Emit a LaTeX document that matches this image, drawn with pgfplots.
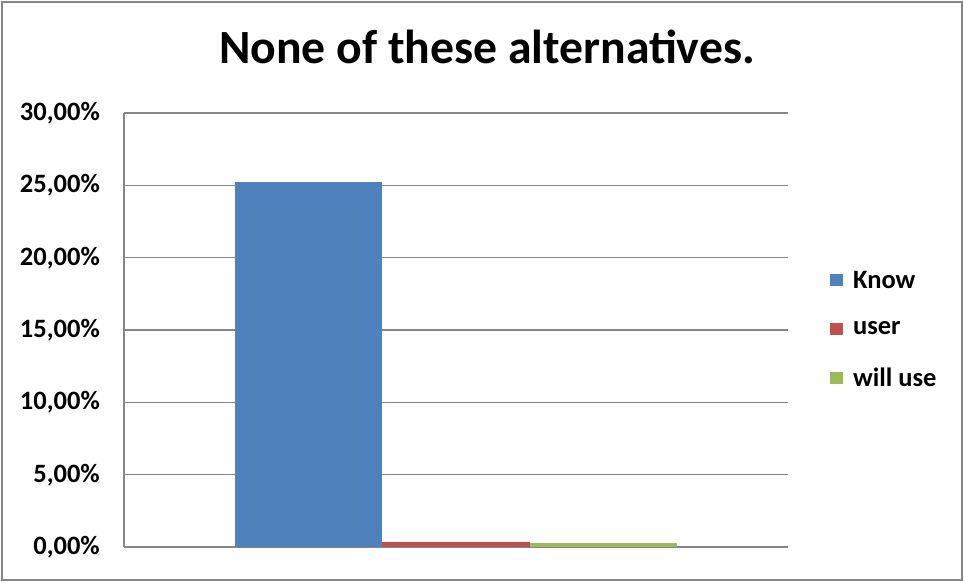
\documentclass[border=0pt]{standalone}
\usepackage{pgfplots}
\pgfplotsset{compat=1.18}
\usepackage{fontspec}
\setmainfont{Carlito}
\definecolor{cblue}{HTML}{4F81BD}
\definecolor{cred}{HTML}{C0504D}
\definecolor{cgreen}{HTML}{9BBB59}
\definecolor{cgrid}{HTML}{868686}
\begin{document}
\begin{tikzpicture}
\path[use as bounding box] (0,0) rectangle (964pt,582pt);
\draw[cgrid, line width=1.5pt] (2pt,2pt) rectangle (962pt,580pt);
\node[font=\fontsize{47.7}{55}\selectfont\bfseries] at (487pt,535pt) {None of these alternatives.};
\begin{axis}[
  at={(124pt,35pt)}, anchor=south west,
  scale only axis, width=664pt, height=434pt,
  xmin=-0.5, xmax=0.5, ymin=0, ymax=30,
  ybar=0pt, bar width=0.2221,
  axis x line=bottom, axis y line=left,
  axis line style={cgrid, line width=1.5pt, -},
  xtick=\empty,
  ytick={0,5,...,30},
  ymajorgrids, grid style={cgrid, line width=1.5pt},
  major tick length=0pt,
  /pgf/number format/assume math mode=true,
  yticklabel={\pgfmathprintnumber[fixed, fixed zerofill, precision=2, use comma]{\tick}\%},
  yticklabel style={font=\fontsize{26.5}{30}\selectfont\bfseries, inner sep=0pt, anchor=east, xshift=-24pt},
  legend style={at={(1.063,0.501)}, anchor=west, draw=none, fill=none,
    font=\fontsize{26.5}{30}\selectfont\bfseries, row sep=28pt, inner sep=0pt,
    /tikz/every odd column/.append style={column sep=8pt}},
  legend cell align=left,
  legend image code/.code={\fill[#1] (0pt,-6pt) rectangle (13pt,6pt);},
]
\addplot[fill=cblue, draw=none] coordinates {(0,25.22)};
\addplot[fill=cred, draw=none] coordinates {(0,0.35)};
\addplot[fill=cgreen, draw=none] coordinates {(0,0.28)};
\legend{Know, user, will use}
\end{axis}
\end{tikzpicture}
\end{document}
